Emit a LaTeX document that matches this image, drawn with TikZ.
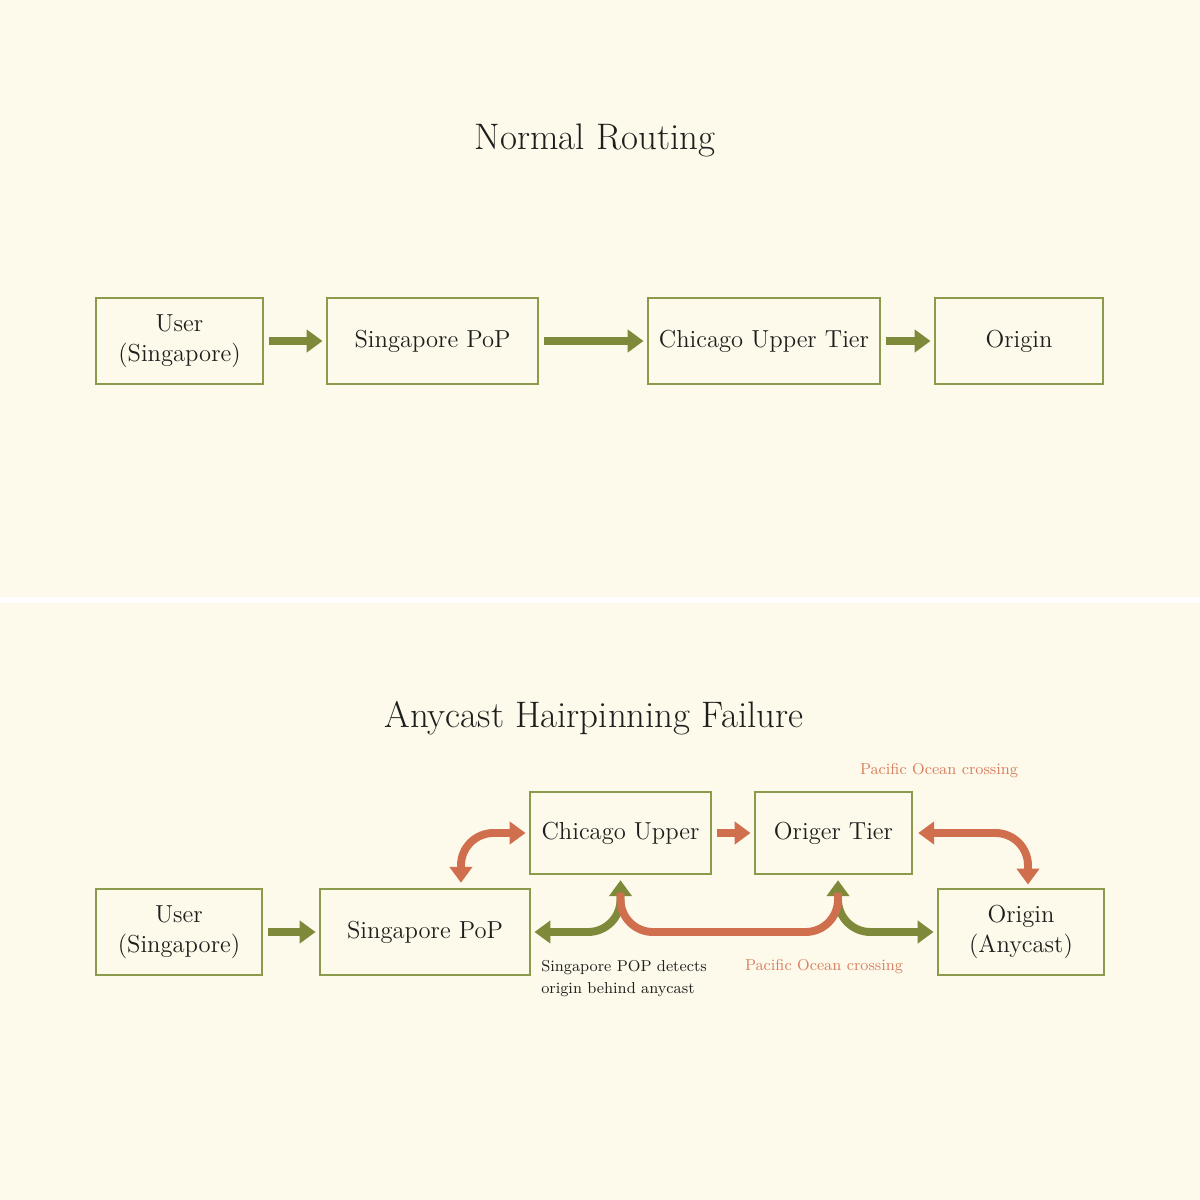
\documentclass[tikz,border=0pt]{standalone}
\usepackage{tikz}
\usetikzlibrary{positioning,arrows.meta,calc}
\definecolor{cream}{HTML}{FDF9EB}
\definecolor{ink}{HTML}{1E1E1C}
\definecolor{olive}{HTML}{7E8A3A}
\definecolor{olivebx}{HTML}{8C9A4C}
\definecolor{rust}{HTML}{CF6F4E}
\definecolor{rustlt}{HTML}{D9805F}
\tikzset{
  box/.style={draw=olivebx, fill=cream, line width=1.1pt, align=center, text=ink,
    font=\fontsize{14}{17}\selectfont, minimum height=1.72cm, inner sep=2pt},
  flow/.style={-{Triangle[length=9pt,width=12.5pt]}, line width=4.5pt, color=olive,
    shorten <=3pt, shorten >=2pt},
  flow2/.style={flow, {Triangle[length=9pt,width=12.5pt]}-{Triangle[length=9pt,width=12.5pt]},
    rounded corners=0.65cm},
  hot/.style={flow, color=rust},
  hot2/.style={flow2, color=rust},
  hotline/.style={line width=4.5pt, color=rust, rounded corners=0.65cm},
  ttl/.style={font=\fontsize{21}{25}\selectfont, text=ink},
  note/.style={font=\fontsize{9}{12.5}\selectfont, text=#1, align=left, inner sep=0pt},
  note/.default=ink,
}
\begin{document}
\begin{tikzpicture}[x=0.02cm,y=-0.02cm]
  \fill[white] (0,0) rectangle (1200,1200);
  \fill[cream] (0,0) rectangle (1200,597);
  \fill[cream] (0,603) rectangle (1200,1200);
  \useasboundingbox (0,0) rectangle (1200,1200);
  % normal routing
  \node[ttl] (t1) at (595,140) {Normal Routing};
  \node[box, minimum width=3.34cm] (user1) at (179.5,341) {User\\(Singapore)};
  \node[box, minimum width=4.22cm] (sg1) at (432.5,341) {Singapore PoP};
  \node[box, minimum width=4.64cm] (chi1) at (764,341) {Chicago Upper Tier};
  \node[box, minimum width=3.36cm] (org1) at (1019,341) {Origin};
  \draw[flow] (user1) -- (sg1);
  \draw[flow] (sg1) -- (chi1);
  \draw[flow] (chi1) -- (org1);
  % anycast hairpinning
  \node[ttl] (t2) at (594,718) {Anycast Hairpinning Failure};
  \node[box, minimum width=3.32cm] (user2) at (179,932) {User\\(Singapore)};
  \node[box, minimum width=4.2cm] (sg2) at (425,932) {Singapore PoP};
  \node[box, minimum width=3.62cm, minimum height=1.64cm] (chi2) at (620.5,833) {Chicago Upper};
  \node[box, minimum width=3.14cm, minimum height=1.64cm] (or2) at (833.5,833) {Origer Tier};
  \node[box, minimum width=3.32cm] (oa2) at (1021,932) {Origin\\(Anycast)};
  \draw[flow] (user2) -- (sg2);
  \draw[hot2] ([xshift=-1.4cm]sg2.north east) |- (chi2.west);
  \draw[hot] (chi2) -- (or2);
  \draw[hot2] (or2.east) -| ([xshift=0.14cm]oa2.north);
  \draw[flow2] (chi2.south) |- (sg2.east);
  \draw[flow2] ([xshift=0.09cm]or2.south) |- (oa2.west);
  \draw[hotline] ([yshift=-10pt]chi2.south) -- (chi2.south |- sg2.east)
    -- ([xshift=0.09cm]or2.south |- sg2.east) -- ([xshift=0.09cm,yshift=-10pt]or2.south);
  \node[note=rustlt] (pac1) at (939,771) {Pacific Ocean crossing};
  \node[note=rustlt] (pac2) at (824,967) {Pacific Ocean crossing};
  \node[note, anchor=north west] (det) at (541,960) {Singapore POP detects\\origin behind anycast};
\end{tikzpicture}
\end{document}
